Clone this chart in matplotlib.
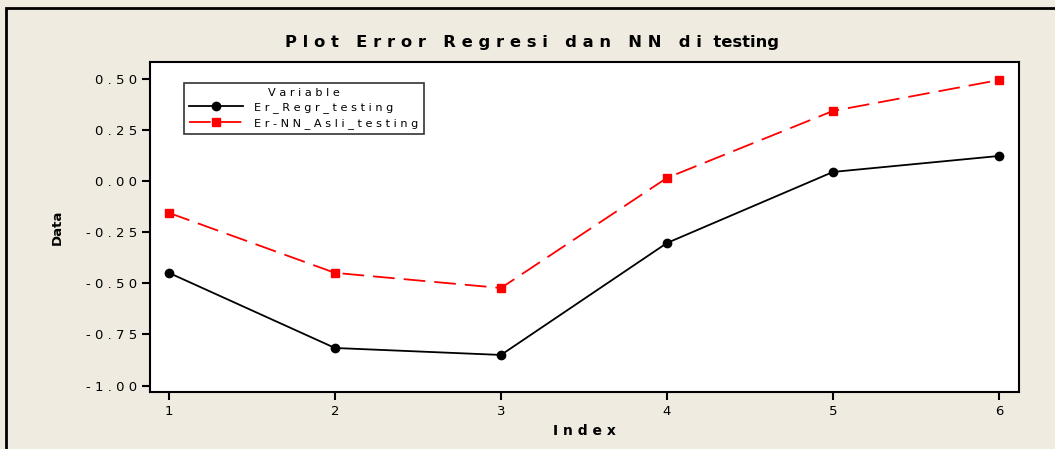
import matplotlib.pyplot as plt
from matplotlib.patches import Rectangle
from matplotlib.ticker import FuncFormatter

index = [1, 2, 3, 4, 5, 6]
er_regr_testing = [-0.449, -0.816, -0.850, -0.303, 0.044, 0.122]
er_nn_asli_testing = [-0.156, -0.449, -0.523, 0.015, 0.342, 0.493]
yticks = [0.50, 0.25, 0.00, -0.25, -0.50, -0.75, -1.00]

bg = '#efebe1'


def spaced(s):
    # the original export draws every character apart
    return ' '.join(s)


fig = plt.figure(figsize=(10.55, 4.49), dpi=100)
fig.patch.set_facecolor(bg)
# outer frame, runs off the right and bottom like the source
fig.patches.append(Rectangle((6/1055, -0.1), 1.1, 1 - 8/449 + 0.1,
                             transform=fig.transFigure, fill=False,
                             edgecolor='black', linewidth=2))

ax = fig.add_axes([150/1055, 57/449, 869/1055, 330/449])
ax.set_facecolor('white')

ax.plot(index, er_regr_testing, color='black', linewidth=1.3,
        marker='o', markersize=6, label=spaced('Er_Regr_testing'))
ax.plot(index, er_nn_asli_testing, color='red', linewidth=1.3,
        dashes=(12, 5), marker='s', markersize=5.5,
        label=spaced('Er-NN_Asli_testing'))

ax.set_xlim(0.886, 6.12)
ax.set_ylim(-1.031, 0.581)
ax.set_xticks(index)
ax.set_yticks(yticks)
ax.yaxis.set_major_formatter(FuncFormatter(lambda v, p: spaced('%.2f' % v)))
ax.tick_params(direction='out', length=6, width=1.5, labelsize=9.5,
               colors='black')
for sp in ax.spines.values():
    sp.set_linewidth(1.5)

ax.set_title(spaced('Plot Error Regresi dan NN di') + '  testing',
             fontsize=11.8, fontweight='bold', x=0.44, pad=11)
ax.set_xlabel(spaced('Index'), fontsize=10, fontweight='bold', labelpad=4)
ax.set_ylabel('Data', fontsize=9.5, fontweight='bold', labelpad=16)

leg = ax.legend(loc='upper left', bbox_to_anchor=(0.039, 0.937),
                title=spaced('Variable'), fontsize=8.1, title_fontsize=8.1,
                frameon=True, fancybox=False, edgecolor='black',
                handlelength=4.8, borderpad=0.45, labelspacing=0.4,
                handletextpad=1.0, borderaxespad=0)
leg.get_frame().set_linewidth(1.2)

fig.savefig('out.png', dpi=100, facecolor=bg)
